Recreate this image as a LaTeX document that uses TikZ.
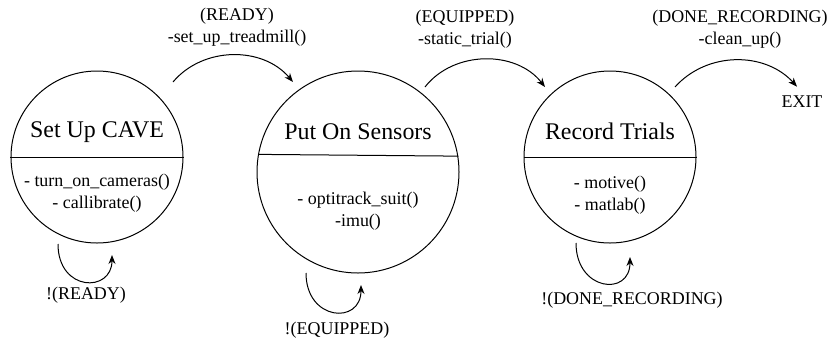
\documentclass[tikz,border=0pt]{standalone}
\usepackage{fontspec}
\newfontfamily\diagfont{Liberation Serif}
\usetikzlibrary{arrows.meta, positioning, calc}

\begin{document}
\begin{tikzpicture}[x=1bp, y=-1bp, line width=1bp,
		state/.style={draw, circle, inner sep=0pt},
		title/.style={font=\diagfont\fontsize{24}{28}\selectfont, inner sep=0pt},
		methods/.style={font=\diagfont\fontsize{18}{22}\selectfont, align=center, inner sep=0pt},
		trans/.style={-{Stealth[length=9bp, width=7bp]}}]
	\useasboundingbox (0,0) rectangle (831,345);

	% states
	\node[state, minimum size=172bp] (cave) at (97,157) {};
	\node[state, minimum size=202bp] (sens) at (358,172) {};
	\node[state, minimum size=172bp] (rec) at (610,157) {};

	\node[title, yshift=25bp] (caveT) at (cave.center) {Set Up CAVE};
	\node[title, yshift=40bp] (sensT) at (sens.center) {Put On Sensors};
	\node[title, yshift=26bp] (recT) at (rec.center) {Record Trials};

	\draw (cave.west) -- (cave.east);
	\draw (sens.170.31) -- (sens.9.69);
	\draw (rec.west) -- (rec.east);

	\node[methods, yshift=-36bp] (caveM) at (cave.center) {- turn\_on\_cameras()\\- callibrate()};
	\node[methods, yshift=-39bp] (sensM) at (sens.center) {- optitrack\_suit()\\-imu()};
	\node[methods, yshift=-38bp] (recM) at (rec.center) {- motive()\\- matlab()};

	\node[methods] (exit) at (802,102) {EXIT};

	% transitions
	\coordinate (t1a) at (173,82);
	\coordinate (t1b) at (293,82);
	\coordinate (t2a) at (425,87);
	\coordinate (t2b) at (545,87);
	\coordinate (t3a) at (675,87);
	\draw[trans] (t1a) to[bend left=50] (t1b);
	\draw[trans] (t2a) to[bend left=52] (t2b);
	\draw[trans] (t3a) to[bend left=48] ([xshift=-5bp, yshift=9bp]exit.north);

	\node[methods] (t1L) at (237,27) {(READY)\\-set\_up\_treadmill()};
	\node[methods] (t2L) at (465,29) {(EQUIPPED)\\-static\_trial()};
	\node[methods] (t3L) at (740,29) {(DONE\_RECORDING)\\-clean\_up()};

	% self loops
	\coordinate (l1a) at (58,244);
	\coordinate (l1b) at (112,255);
	\coordinate (l2a) at (306,273);
	\coordinate (l2b) at (361,285);
	\coordinate (l3a) at (576,243);
	\coordinate (l3b) at (630,257);
	\draw[trans] (l1a) .. controls +(0,48) and +(0,38) .. (l1b);
	\draw[trans] (l2a) .. controls +(0,48) and +(0,40) .. (l2b);
	\draw[trans] (l3a) .. controls +(0,48) and +(0,40) .. (l3b);

	\node[methods] (l1L) at (86,295) {!(READY)};
	\node[methods] (l2L) at (337,330) {!(EQUIPPED)};
	\node[methods] (l3L) at (632,300) {!(DONE\_RECORDING)};
\end{tikzpicture}
\end{document}
